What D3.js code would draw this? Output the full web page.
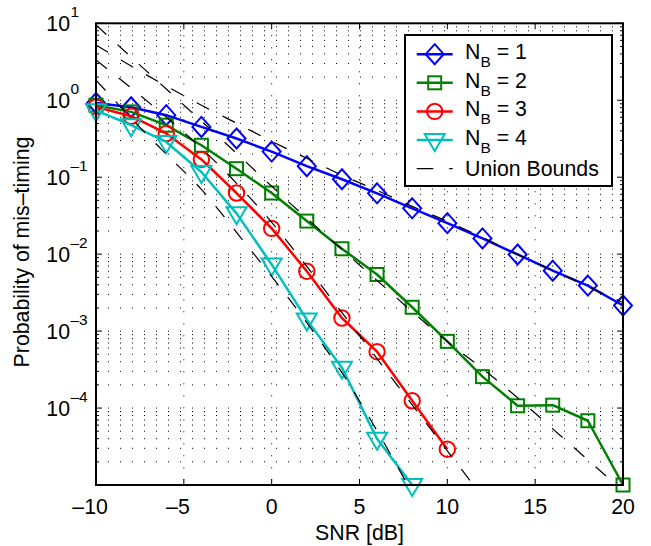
<!DOCTYPE html>
<html><head><meta charset="utf-8">
<script src="https://cdn.jsdelivr.net/npm/d3@7"></script>
<style>body{margin:0;background:#fff} text{font-family:"Liberation Sans",Arial,Helvetica,sans-serif;fill:#000}</style>
</head><body><svg id="c" width="651" height="546"></svg>
<script>
// ---- data ----
const snr = [-10,-8,-6,-4,-2,0,2,4,6,8,10,12,14,16,18,20];
const nb1 = [0.92,0.81,0.64,0.45,0.318,0.215,0.139,0.094,0.0617,0.0394,0.0253,0.016,0.0099,0.0061,0.0039,0.00215];
const nb2 = [0.863,0.706,0.474,0.26,0.129,0.0623,0.0269,0.01175,0.00544,0.00204,7.36e-4,2.56e-4,1.07e-4,1.09e-4,6.84e-5,1e-5];
const nb3 = [0.82,0.62,0.37,0.17,0.0623,0.0216,0.006,0.00148,5.4e-4,1.245e-4,2.92e-5];
const nb4 = [0.74,0.474,0.287,0.117,0.0339,0.00735,0.00141,3.35e-4,3.98e-5,1e-5];
const ub1 = [5.22,2.78,1.53,0.863,0.503,0.293,0.176,0.106,0.0675,0.0418,0.0267,0.0165,0.0099,0.00614,0.00379,0.00235];
const ub2 = [9.5,3.64,1.40,0.535,0.205,0.0762,0.0292,0.0115,0.00455,0.00179,7.3e-4,3.25e-4,1.36e-4,5.37e-5,2.12e-5,8.4e-6];
const ub3 = [3.33,1.44,0.603,0.238,0.0833,0.0259,0.00692,0.00174,4.39e-4,1.10e-4,2.78e-5,7.0e-6];
const ub4 = [1.83,0.585,0.199,0.0695,0.0192,0.00513,0.00129,2.88e-4,5.06e-5,7.9e-6];
const xTicks = [-10,-5,0,5,10,15,20];
const yExps = [1,0,-1,-2,-3,-4];
const seriesNames = ["1","2","3","4"];
const seriesColors = ["#0000ff","#008000","#ff0000","#00bfbf"];
const boundLabel = "Union Bounds";
const xLabel = "SNR [dB]";
const yLabel = "Probability of mis–timing";

// ---- layout ----
const L = 96, R = 623, T = 23.3, B = 485;
const FS = 21.3, FS2 = 15.5;
const svg = d3.select("#c");
const x = d3.scaleLinear().domain([-10,20]).range([L,R]);
const y = d3.scaleLog().domain([1e-5,10]).range([B,T]);

svg.append("defs").append("clipPath").attr("id","clip")
  .append("rect").attr("x",L).attr("y",T).attr("width",R-L).attr("height",B-T);

// grid
const minorVals = [];
for (let e=-5;e<1;e++) for (let m=1;m<10;m++) minorVals.push(m*Math.pow(10,e));
const g = svg.append("g");
g.selectAll("line.h").data(minorVals.filter(v=>v>1e-5 && v<10)).join("line")
  .attr("x1",L).attr("x2",R).attr("y1",d=>y(d)).attr("y2",d=>y(d))
  .attr("stroke","#000").attr("stroke-width",1).attr("stroke-dasharray","1,11");
g.selectAll("line.v").data(xTicks.slice(1,-1)).join("line")
  .attr("x1",d=>x(d)).attr("x2",d=>x(d)).attr("y1",T).attr("y2",B)
  .attr("stroke","#000").attr("stroke-width",1).attr("stroke-dasharray","1,11");

// ticks
const tk = svg.append("g").attr("stroke","#000").attr("stroke-width",1);
xTicks.forEach(v=>{
  tk.append("line").attr("x1",x(v)).attr("x2",x(v)).attr("y1",B).attr("y2",B-6);
  tk.append("line").attr("x1",x(v)).attr("x2",x(v)).attr("y1",T).attr("y2",T+6);
});
minorVals.concat([10]).forEach(v=>{
  if (v<1e-5 || v>10) return;
  const major = Math.abs(Math.log10(v)-Math.round(Math.log10(v)))<1e-9;
  const len = major?6:3;
  tk.append("line").attr("x1",L).attr("x2",L+len).attr("y1",y(v)).attr("y2",y(v));
  tk.append("line").attr("x1",R).attr("x2",R-len).attr("y1",y(v)).attr("y2",y(v));
});

// series
const lineGen = d3.line().x(d=>x(d[0])).y(d=>y(d[1]));
const sims = [nb1,nb2,nb3,nb4];
function marker(sel, i, cx, cy){
  if (i===0) sel.append("path").attr("d",`M${cx},${cy-10}L${cx+9},${cy}L${cx},${cy+10}L${cx-9},${cy}Z`);
  else if (i===1) sel.append("rect").attr("x",cx-6.5).attr("y",cy-6.5).attr("width",13).attr("height",13);
  else if (i===2) sel.append("circle").attr("cx",cx).attr("cy",cy).attr("r",7.7);
  else sel.append("path").attr("d",`M${cx-10},${cy-6}L${cx+10},${cy-6}L${cx},${cy+11}Z`);
}
const plot = svg.append("g");
sims.forEach((arr,i)=>{
  const pts = arr.map((v,j)=>[snr[j],v]);
  const sg = plot.append("g");
  sg.append("path").attr("d",lineGen(pts)).attr("fill","none")
    .attr("stroke",seriesColors[i]).attr("stroke-width",2.5).attr("stroke-linejoin","round");
  const mg = sg.append("g").attr("fill","none").attr("stroke",seriesColors[i]).attr("stroke-width",2);
  pts.forEach(p=>marker(mg,i,x(p[0]),y(p[1])));
});

// bounds
const bLine = d3.line().x(d=>x(d[0])).y(d=>y(d[1])).curve(d3.curveMonotoneX);
const bg = svg.append("g").attr("clip-path","url(#clip)");
[ub1,ub2,ub3,ub4].forEach(arr=>{
  const pts = arr.map((v,j)=>[snr[j],v]);
  bg.append("path").attr("d",bLine(pts)).attr("fill","none")
    .attr("stroke","#000").attr("stroke-width",1.2).attr("stroke-dasharray","14,15");
});

// axes box
svg.append("rect").attr("x",L).attr("y",T).attr("width",R-L).attr("height",B-T)
  .attr("fill","none").attr("stroke","#000").attr("stroke-width",2);

// tick labels
xTicks.forEach(v=>{
  const digits = String(Math.abs(v));
  const w = digits.length*0.556*FS;
  svg.append("text").attr("x",x(v)+w/2).attr("y",514).attr("text-anchor","end")
    .attr("font-size",FS).text((v<0?"–":"")+digits);
});
yExps.forEach(e=>{
  const ty = y(Math.pow(10,e));
  svg.append("text").attr("x",70).attr("y",ty+7.5).attr("text-anchor","end").attr("font-size",FS).text("10");
  svg.append("text").attr("x",70.5).attr("y",ty-6.5).attr("text-anchor","start").attr("font-size",FS2)
    .text((e<0?"–":"")+Math.abs(e));
});
svg.append("text").attr("x",(L+R)/2).attr("y",540).attr("text-anchor","middle").attr("font-size",FS).text(xLabel);
svg.append("text").attr("transform",`translate(29,252) rotate(-90)`).attr("text-anchor","middle")
  .attr("font-size",FS).text(yLabel);

// legend
const lg = svg.append("g");
lg.append("rect").attr("x",405).attr("y",35).attr("width",207).attr("height",151)
  .attr("fill","#fff").attr("stroke","#000").attr("stroke-width",2);
const rowY = [54.2,82.8,111.4,140,168.6];
seriesNames.forEach((n,i)=>{
  const ry = rowY[i];
  lg.append("line").attr("x1",416.7).attr("x2",452.7).attr("y1",ry).attr("y2",ry)
    .attr("stroke",seriesColors[i]).attr("stroke-width",2.5);
  const mg = lg.append("g").attr("fill","none").attr("stroke",seriesColors[i]).attr("stroke-width",2);
  marker(mg,i,434.7,ry);
  const t = lg.append("text").attr("x",465).attr("y",ry+5).attr("font-size",FS);
  t.append("tspan").text("N");
  t.append("tspan").attr("font-size",FS2).attr("dy",8).text("B");
  t.append("tspan").attr("dy",-8).text(" = "+n);
});
lg.append("line").attr("x1",416.7).attr("x2",452.7).attr("y1",rowY[4]).attr("y2",rowY[4])
  .attr("stroke","#000").attr("stroke-width",1.2).attr("stroke-dasharray","16.5,16");
lg.append("text").attr("x",465).attr("y",rowY[4]+7.5).attr("font-size",FS).text(boundLabel);
</script></body></html>
